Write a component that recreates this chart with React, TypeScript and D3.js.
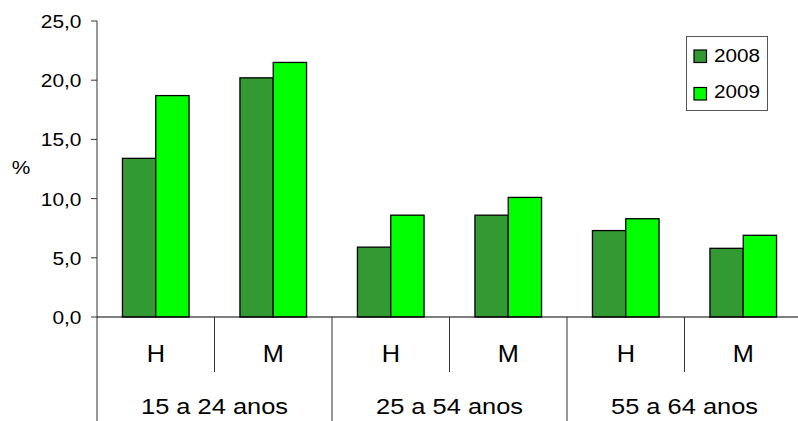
import React from "react";
import * as d3 from "d3";

const groups = ["15 a 24 anos", "25 a 54 anos", "55 a 64 anos"];
const sexes = ["H", "M"];
const series = ["2008", "2009"];
const values2008 = [13.4, 20.2, 5.9, 8.6, 7.3, 5.8];
const values2009 = [18.7, 21.5, 8.6, 10.1, 8.3, 6.9];
const yTicks = [0, 5, 10, 15, 20, 25];
const colors = ["#339933", "#00ff00"];

const W = 798;
const H = 421;
const FONT = "'Liberation Sans', Arial, sans-serif";

export default function App() {
  const cats = groups.flatMap((g) => sexes.map((s) => `${g}|${s}`));
  const x0 = d3.scaleBand<string>().domain(cats).range([97, 802]).padding(0);
  const x1 = d3.scaleBand<string>().domain(series).range([0, x0.bandwidth()]).paddingInner(0).paddingOuter(0.764);
  const y = d3.scaleLinear().domain([0, 25]).range([317, 21]);
  const data = [values2008, values2009];
  const fmt = (v: number) => v.toFixed(1).replace(".", ",");
  const groupScale = d3.scaleBand<string>().domain(groups).range([97, 802]);

  return (
    <svg width={W} height={H} style={{ position: "absolute", left: 0, top: 0, background: "#fff" }} fontFamily={FONT}>
      <rect x={0} y={0} width={W} height={H} fill="#fff" />
      {/* bars */}
      {cats.map((c, i) =>
        series.map((s, j) => (
          <rect
            key={c + s}
            x={(x0(c) as number) + (x1(s) as number)}
            y={y(data[j][i])}
            width={x1.bandwidth()}
            height={y(0) - y(data[j][i])}
            fill={colors[j]}
            stroke="#000"
            strokeWidth={1.3}
          />
        ))
      )}
      {/* y axis */}
      <line x1={97} x2={97} y1={y(25)} y2={H} stroke="#333" strokeWidth={1} />
      {yTicks.map((t) => (
        <g key={t}>
          <line x1={91} x2={97} y1={y(t)} y2={y(t)} stroke="#333" strokeWidth={1} />
          <text
            transform={`translate(81.5,${y(t) + 7}) scale(1.1,1)`}
            textAnchor="end"
            fontSize={19}
            fill="#000"
          >
            {fmt(t)}
          </text>
        </g>
      ))}
      <text transform={`translate(21,174) scale(1.1,1)`} textAnchor="middle" fontSize={19} fill="#000">
        %
      </text>
      {/* x axis */}
      <line x1={97} x2={W} y1={y(0)} y2={y(0)} stroke="#000" strokeWidth={1.2} />
      {cats.map((c, i) => {
        const xl = x0(c) as number;
        const isGroupStart = i % 2 === 0;
        return (
          <g key={c}>
            {i > 0 && (
              <line x1={xl} x2={xl} y1={y(0)} y2={isGroupStart ? H : 372} stroke="#333" strokeWidth={1} />
            )}
            <text
              transform={`translate(${xl + x0.bandwidth() / 2},362) scale(1.1,1)`}
              textAnchor="middle"
              fontSize={23}
              fill="#000"
            >
              {c.split("|")[1]}
            </text>
          </g>
        );
      })}
      {groups.map((g) => (
        <text
          key={g}
          transform={`translate(${(groupScale(g) as number) + groupScale.bandwidth() / 2},414) scale(1.13,1)`}
          textAnchor="middle"
          fontSize={22.5}
          fill="#000"
        >
          {g}
        </text>
      ))}
      {/* legend */}
      <rect x={686.5} y={36.5} width={81} height={74} fill="#fff" stroke="#555" strokeWidth={1} />
      {series.map((s, j) => (
        <g key={s}>
          <rect x={694} y={50 + j * 37.5} width={12.5} height={12.5} fill={colors[j]} stroke="#000" strokeWidth={1.2} />
          <text transform={`translate(714,${61.5 + j * 36.5}) scale(1.09,1)`} fontSize={19} fill="#000">
            {s}
          </text>
        </g>
      ))}
    </svg>
  );
}
